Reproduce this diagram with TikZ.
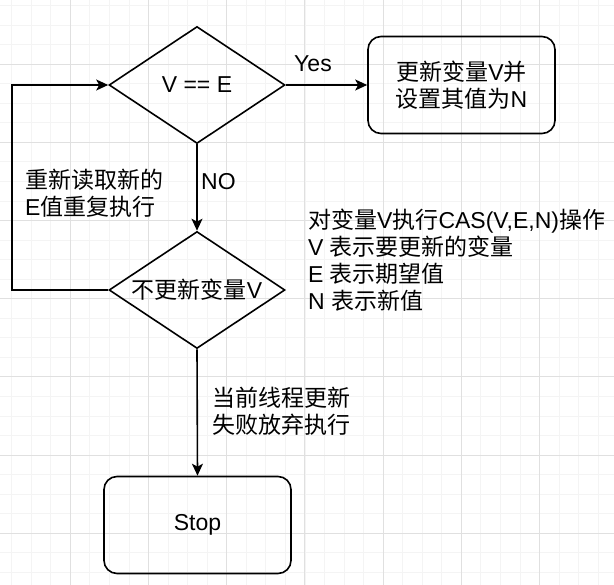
\documentclass[tikz,border=0pt]{standalone}
\usepackage{fontspec}
\setmainfont{Liberation Sans}
\newfontfamily\cjk{Noto Sans CJK SC}
\usetikzlibrary{shapes.geometric,arrows.meta}
\begin{document}
\begin{tikzpicture}[x=1pt,y=-1pt,
  every node/.style={font=\fontsize{23}{27}\selectfont},
  line/.style={line width=1.6pt, black},
  arr/.style={line, -{Stealth[length=12pt,width=11pt,inset=3pt]}},
  dec/.style={draw, line width=1.6pt, diamond, minimum width=176pt, minimum height=117pt, inner sep=0pt, aspect=1.5},
  rbox/.style={draw, line width=1.6pt, rounded corners=13pt, minimum width=187pt, minimum height=97pt, align=center},
  lbl/.style={align=left, inner sep=0pt},
  minorgrid/.style={draw=gray!9, line width=0.8pt},
  majorgrid/.style={draw=gray!24, line width=0.9pt}
]
\useasboundingbox (0,0) rectangle (614,585);
\fill[white] (0,0) rectangle (614,585);
% grid
\foreach \i in {0,...,32} {
  \draw[minorgrid] ({-7.9+19.55*\i},0) -- ({-7.9+19.55*\i},585);
  \draw[minorgrid] (0,{-14.1+19.55*\i}) -- (614,{-14.1+19.55*\i});
}
\foreach \i in {0,...,8} {
  \draw[majorgrid] ({-7.9+78.2*\i},0) -- ({-7.9+78.2*\i},585);
  \draw[majorgrid] (0,{-14.1+78.2*\i}) -- (614,{-14.1+78.2*\i});
}
% nodes
\node[dec] (d1) at (197,85) {V == E};
\node[dec] (d2) at (197,290) {{\cjk 不更新变量}V};
\node[rbox] (upd) at (461.5,85) {{\cjk 更新变量}V{\cjk 并}\\{\cjk 设置其值为}N};
\node[rbox] (stop) at (197.5,525) {Stop};
\coordinate (loopx) at (12,0);
% labels
\node[lbl, anchor=center] (yes) at (313,64) {Yes};
\node[lbl, anchor=west] (no) at (201,182) {NO};
\node[lbl, anchor=west] (retry) at (25,193.5) {{\cjk 重新读取新的}\\E{\cjk 值重复执行}};
\node[lbl, anchor=west] (note) at (308,260) {{\cjk 对变量}V{\cjk 执行}CAS(V,E,N){\cjk 操作}\\V {\cjk 表示要更新的变量}\\E {\cjk 表示期望值}\\N {\cjk 表示新值}};
\node[lbl, anchor=west] (fail) at (212,411) {{\cjk 当前线程更新}\\{\cjk 失败放弃执行}};
% connectors
\draw[arr] (d1.east) -- (upd.west);
\draw[arr] (d1.south) -- (d2.north);
\draw[arr] (d2.south) -- (stop.north);
\draw[arr] (d2.west) -- (d2.west -| loopx) |- (d1.west);
\end{tikzpicture}
\end{document}
